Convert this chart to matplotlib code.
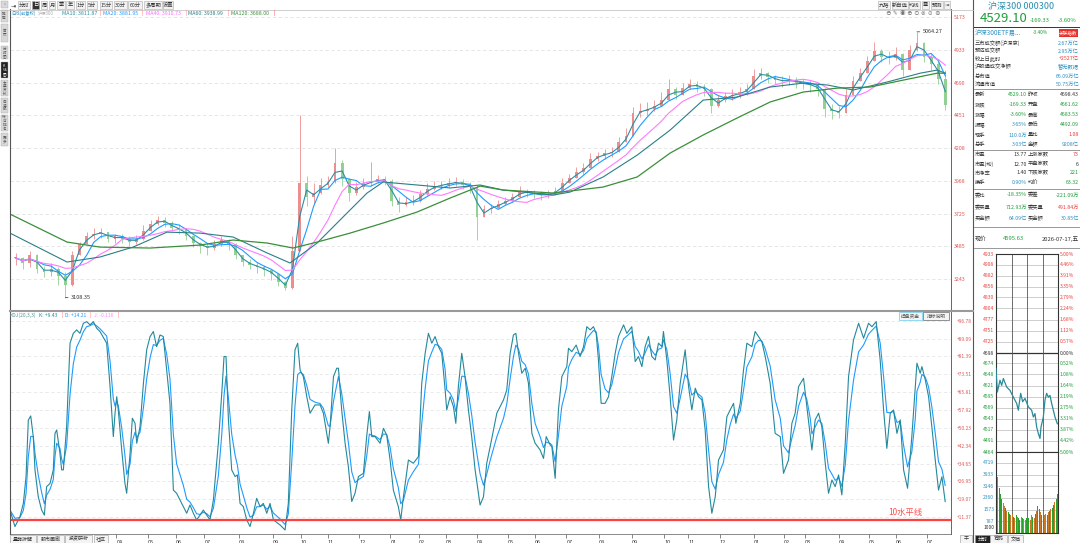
import numpy as np
import pandas as pd
import matplotlib
matplotlib.use("Agg")
import matplotlib.pyplot as plt
from matplotlib.patches import Rectangle

plt.rcParams['font.family'] = ['Noto Sans CJK SC', 'DejaVu Sans']

# ---- daily K chart, read every 5 trading days ----
closes = [3400, 3360, 3420, 3320, 3300, 3320, 3270, 3200, 3420, 3500,
          3560, 3580, 3590, 3540, 3560, 3540, 3520, 3540, 3600, 3650,
          3680, 3660, 3620, 3610, 3560, 3510, 3490, 3470, 3500, 3530,
          3500, 3420, 3370, 3350, 3330, 3310, 3280, 3220, 3180, 3450,
          3950, 3850, 3880, 3940, 3960, 4100, 3980, 3880, 3920, 3950,
          3960, 3980, 3970, 3820, 3790, 3810, 3820, 3870, 3910, 3930,
          3940, 3950, 3960, 3940, 3920, 3700, 3760, 3770, 3800, 3820,
          3850, 3890, 3880, 3870, 3860, 3870, 3890, 3950, 3990, 4030,
          4060, 4130, 4150, 4170, 4180, 4250, 4300, 4470, 4480, 4500,
          4520, 4560, 4640, 4600, 4650, 4680, 4660, 4640, 4520, 4560,
          4590, 4600, 4620, 4640, 4740, 4760, 4730, 4710, 4700, 4710,
          4690, 4680, 4670, 4640, 4500, 4480, 4470, 4600, 4700, 4760,
          4850, 4920, 4880, 4870, 4900, 4780, 4930, 4980, 4880, 4830,
          4720, 4529.10]
highs = [3440, 3410, 3450, 3430, 3340, 3360, 3330, 3300, 3450, 3520,
         3590, 3620, 3620, 3590, 3580, 3580, 3560, 3570, 3640, 3680,
         3710, 3700, 3670, 3650, 3620, 3570, 3520, 3510, 3530, 3560,
         3540, 3510, 3420, 3390, 3370, 3350, 3320, 3290, 3230, 3560,
         4452, 4000, 3950, 3990, 4000, 4209, 4120, 3990, 3960, 3990,
         4106, 4010, 4000, 3980, 3850, 3850, 3860, 3900, 3950, 3970,
         3970, 3990, 3998, 3980, 3960, 3940, 3790, 3800, 3830, 3850,
         3880, 3930, 3910, 3900, 3890, 3900, 3920, 3990, 4020, 4070,
         4100, 4170, 4180, 4200, 4220, 4290, 4360, 4510, 4540, 4550,
         4560, 4620, 4720, 4660, 4690, 4720, 4700, 4680, 4650, 4600,
         4620, 4640, 4660, 4680, 4790, 4800, 4770, 4750, 4740, 4750,
         4730, 4720, 4710, 4690, 4650, 4530, 4520, 4640, 4740, 4800,
         4890, 4990, 4940, 4920, 4950, 4910, 4970, 5064.27, 4990, 4900,
         4860, 4780]
lows = [3350, 3320, 3330, 3290, 3260, 3270, 3200, 3108.35, 3190, 3420,
        3500, 3540, 3550, 3520, 3510, 3510, 3490, 3500, 3530, 3600,
        3640, 3630, 3600, 3580, 3530, 3480, 3440, 3420, 3460, 3490,
        3460, 3390, 3340, 3320, 3290, 3270, 3240, 3190, 3164, 3170,
        3450, 3780, 3800, 3870, 3920, 3950, 3930, 3820, 3860, 3910,
        3930, 3950, 3940, 3780, 3740, 3780, 3790, 3810, 3860, 3900,
        3910, 3920, 3930, 3910, 3880, 3530, 3700, 3730, 3770, 3790,
        3810, 3850, 3850, 3840, 3830, 3840, 3860, 3890, 3950, 3990,
        4020, 4060, 4110, 4130, 4140, 4180, 4250, 4300, 4440, 4450,
        4480, 4520, 4560, 4570, 4600, 4640, 4620, 4590, 4470, 4510,
        4550, 4560, 4580, 4600, 4640, 4720, 4690, 4680, 4660, 4670,
        4650, 4640, 4620, 4590, 4440, 4420, 4430, 4470, 4600, 4700,
        4760, 4850, 4840, 4830, 4860, 4740, 4780, 4920, 4840, 4780,
        4680, 4490]

# long moving averages (trading day, value)
ma60_points = [(0, 3583), (40.2, 3370), (63.4, 3407), (86.7, 3480), (110.6, 3590),
               (133.9, 3583), (157.2, 3554), (181.1, 3437), (197.3, 3363), (216.4, 3510),
               (239.6, 3753), (251.6, 3878), (262.9, 3959), (286.8, 3937), (310.1, 3915),
               (331.2, 3937), (347.4, 3900), (382.7, 3863), (394.6, 3885), (417.9, 3996),
               (441.9, 4157), (465.1, 4341), (488.4, 4562), (512.3, 4584), (535.6, 4658),
               (558.8, 4687), (575.8, 4673), (594.1, 4636), (618.0, 4695), (641.3, 4760),
               (653.3, 4783), (658.9, 4760)]
ma120_points = [(0, 3723), (40.2, 3517), (63.4, 3480), (98.7, 3473), (133.9, 3495),
                (157.2, 3532), (181.1, 3510), (199.4, 3473), (216.4, 3517), (239.6, 3583),
                (262.9, 3657), (286.8, 3738), (310.1, 3841), (331.2, 3929), (347.4, 3900),
                (382.7, 3878), (417.9, 3922), (441.9, 3996), (465.1, 4172), (488.4, 4305),
                (512.3, 4430), (535.6, 4548), (558.8, 4621), (582.8, 4650), (606.1, 4658),
                (629.3, 4709), (653.3, 4760), (658.9, 4760)]

# KDJ K line (trading day, K)
kdj_points = [
    (0.0, 14.4), (3.5, 7.2), (7.0, 11.5), (9.4, 17.3), (11.3, 28.9), (12.9, 53.6), (14.6, 55.4),
    (16.4, 46.4), (17.6, 31.9), (19.9, 20.2), (22.3, 14.4), (24.2, 12.2), (25.8, 24.6), (28.2, 26.0),
    (30.5, 31.9), (31.7, 47.8), (32.9, 49.3), (35.2, 39.1), (36.4, 31.9), (37.6, 31.9), (39.9, 50.7),
    (42.3, 87.1), (44.6, 91.4), (47.0, 92.9), (49.3, 91.4), (51.7, 95.8), (54.0, 96.5), (56.4, 95.1),
    (58.7, 96.5), (61.1, 93.6), (63.4, 92.2), (68.1, 87.1), (70.5, 68.2), (72.8, 46.4), (74.0, 56.6),
    (75.2, 63.8), (76.3, 58.0), (78.7, 40.6), (81.0, 26.0), (82.2, 21.7), (84.6, 39.1), (86.2, 54.4),
    (88.1, 52.2), (89.3, 43.5), (91.6, 50.7), (94.0, 69.6), (96.3, 84.2), (98.7, 90.0), (101.0, 92.2),
    (103.3, 85.6), (105.7, 90.7), (108.0, 90.0), (110.4, 75.4), (112.7, 60.9), (115.1, 23.1),
    (117.4, 21.7), (122.1, 15.9), (124.5, 13.0), (126.8, 16.6), (129.2, 13.0), (131.5, 10.1),
    (133.9, 12.2), (136.2, 14.4), (138.6, 12.2), (140.9, 10.1), (143.3, 18.8), (146.8, 43.5),
    (149.2, 65.3), (150.8, 81.3), (152.2, 81.3), (153.9, 53.6), (156.2, 31.9), (158.6, 29.0),
    (160.2, 29.7), (162.1, 17.3), (164.4, 15.9), (166.8, 10.1), (169.1, 7.2), (171.5, 13.0),
    (173.8, 19.5), (176.2, 15.9), (178.5, 17.3), (180.9, 13.0), (183.2, 17.3), (185.6, 10.1),
    (190.3, 7.9), (193.8, 5.7), (196.1, 17.3), (198.5, 58.0), (200.8, 84.2), (202.7, 87.1),
    (204.4, 75.4), (206.7, 72.5), (209.1, 63.8), (211.4, 56.6), (214.9, 60.2), (218.5, 60.2),
    (220.8, 56.6), (224.3, 43.5), (225.5, 50.7), (227.9, 72.5), (230.2, 76.2), (231.4, 76.2),
    (233.7, 58.0), (236.1, 43.5), (238.4, 33.3), (240.8, 18.1), (243.1, 21.7), (245.5, 29.0),
    (249.0, 30.4), (251.3, 46.4), (253.2, 57.3), (254.9, 46.4), (257.2, 46.4), (260.7, 43.5),
    (263.1, 50.0), (265.4, 47.1), (267.8, 36.2), (270.1, 23.1), (273.6, 15.9), (275.3, 10.1),
    (277.2, 20.2), (280.7, 36.2), (284.2, 34.8), (287.8, 37.7), (290.1, 69.6), (292.5, 82.7),
    (294.8, 91.4), (297.2, 87.1), (299.5, 90.0), (301.9, 85.6), (304.2, 82.7), (306.6, 66.7),
    (307.7, 58.0), (310.1, 63.8), (312.4, 59.5), (314.1, 52.2), (315.9, 68.2), (318.3, 82.7),
    (320.6, 72.5), (323.0, 58.0), (325.3, 46.4), (327.7, 31.9), (331.2, 16.6), (333.6, 20.2),
    (335.9, 34.8), (338.3, 42.0), (343.0, 56.6), (347.7, 62.4), (350.0, 66.7), (352.4, 82.7),
    (354.7, 90.7), (356.4, 91.4), (358.3, 82.7), (360.6, 74.0), (363.0, 76.2), (365.3, 69.6),
    (367.7, 47.8), (370.0, 43.5), (373.5, 40.6), (375.9, 36.9), (377.8, 46.4), (380.6, 42.8),
    (381.8, 42.0), (384.1, 28.2), (386.4, 58.0), (388.8, 72.5), (392.3, 76.9), (393.5, 84.9),
    (395.8, 83.4), (398.9, 86.3), (401.7, 81.3), (404.1, 85.6), (406.4, 94.3), (408.8, 92.9),
    (411.1, 94.3), (413.0, 91.4), (414.6, 79.8), (416.5, 60.9), (419.3, 60.9), (421.7, 63.8),
    (424.0, 72.5), (426.4, 82.7), (428.7, 90.0), (432.3, 95.1), (434.6, 91.4), (438.1, 94.3),
    (440.5, 79.1), (442.8, 81.3), (445.2, 76.9), (447.5, 85.6), (449.9, 90.0), (452.2, 81.3),
    (454.6, 79.8), (456.9, 87.1), (459.3, 85.6), (460.4, 92.2), (462.8, 79.8), (465.1, 63.8),
    (467.5, 44.9), (469.8, 53.7), (472.2, 69.6), (475.7, 84.2), (478.1, 68.2), (480.4, 58.0),
    (482.8, 67.5), (485.1, 63.8), (487.5, 62.4), (489.8, 49.3), (492.2, 24.6), (494.5, 13.0),
    (496.9, 20.2), (499.2, 36.2), (502.7, 40.6), (505.1, 55.1), (507.4, 58.0), (509.8, 60.9),
    (511.4, 52.2), (514.5, 60.9), (516.8, 75.4), (519.2, 87.1), (522.7, 85.6), (525.0, 92.2),
    (527.4, 90.0), (529.7, 87.8), (532.1, 81.3), (535.6, 69.6), (539.1, 47.8), (542.7, 46.4),
    (545.0, 30.4), (548.5, 36.2), (550.9, 52.2), (553.2, 56.6), (555.6, 68.2), (559.1, 71.8),
    (561.4, 59.5), (563.8, 46.4), (565.0, 40.6), (567.3, 53.7), (569.7, 56.6), (572.0, 50.7),
    (574.4, 34.8), (576.7, 21.7), (579.1, 27.5), (581.4, 24.6), (583.8, 29.7), (586.1, 21.0),
    (588.5, 43.5), (590.8, 72.5), (594.3, 88.5), (597.9, 95.8), (601.4, 89.3), (604.9, 95.8),
    (607.3, 94.3), (610.3, 96.5), (613.1, 79.8), (615.5, 58.0), (617.8, 41.3), (620.2, 56.6),
    (622.5, 58.0), (624.9, 47.8), (627.2, 53.7), (629.6, 31.9), (632.4, 23.9), (635.4, 46.4),
    (637.8, 68.2), (639.0, 78.4), (641.3, 74.0), (642.5, 76.9), (644.9, 71.1), (647.2, 63.8),
    (649.5, 50.7), (651.9, 36.2), (654.2, 23.1), (656.6, 28.9), (658.9, 18.1)]

month_day = [75, 97, 117, 137, 161, 185, 205, 224, 246, 268, 288, 307, 329, 351,
             370, 392, 415, 438, 461, 478, 500, 524, 545, 560, 584, 605, 624, 646]
month_lbl = ['04', '05', '06', '07', '08', '09', '10', '11', '12', '01', '02', '03', '04', '05',
             '06', '07', '08', '09', '10', '11', '12', '01', '02', '03', '04', '05', '06', '07']

price_ticks = [5173, 4933, 4690, 4451, 4208, 3968, 3725, 3485, 3243]
kdj_ticks = [96.78, 89.09, 81.39, 73.51, 65.81, 57.92, 50.23, 42.34, 34.65, 26.95, 19.07, 11.37]

# ---- intraday panel ----
intraday_points = [(0, 4662), (5.2, 4606), (15.5, 4634), (21.9, 4622), (28.4, 4638), (41.3, 4618),
                   (54.2, 4610), (67.1, 4594), (80.0, 4579), (86.4, 4563), (95.5, 4603), (103.2, 4583),
                   (112.2, 4591), (125.1, 4571), (138.0, 4563), (144.5, 4547), (150.9, 4555),
                   (157.4, 4523), (163.8, 4508), (170.3, 4496), (174.2, 4523), (183.2, 4547),
                   (189.6, 4587), (196.1, 4603), (202.5, 4594), (209.0, 4598), (215.4, 4579),
                   (221.9, 4563), (228.3, 4547), (237.4, 4531)]
intraday_ticks = [4933, 4908, 4882, 4856, 4830, 4804, 4777, 4751, 4725, 4698,
                  4674, 4648, 4621, 4595, 4569, 4543, 4517, 4491, 4464]
intraday_pct = ['5.00%', '4.46%', '3.91%', '3.35%', '2.79%', '2.24%', '1.68%', '1.12%', '0.57%', '0.00%',
                '0.52%', '1.08%', '1.64%', '2.19%', '2.75%', '3.31%', '3.87%', '4.42%', '5.00%']
prev_close = 4698
vol = [4900, 3800, 3000, 2600, 2300, 2000, 1800, 1700, 1500, 1400, 1300, 1200, 1300, 1100, 1000, 1200,
       1100, 1000, 900, 1100, 1000, 950, 900, 1000, 1100, 1000, 900, 1200, 1100, 1000, 1300, 1500,
       1800, 1600, 1400, 1200, 1100, 1200, 1300, 1200, 1400, 1500, 1600, 1700, 1900, 2100, 2300, 2600]
vol_side = "gogggoogoggoogogoggogoogggoogogoggoggoogogoggogg"
vol_ticks = [4719, 3933, 3146, 2360, 1573, 787]

RED, GREEN, BLUE, DARK = '#e8413c', '#1f9d3a', '#2f8fc0', '#333333'

W, H = 1080, 543
fig = plt.figure(figsize=(W / 100, H / 100), dpi=100)


def rect(x0, y0, x1, y1):
    return [x0 / W, 1 - y1 / H, (x1 - x0) / W, (y1 - y0) / H]


# ---- price panel ----
ax = fig.add_axes(rect(10, 10, 951, 310))
x = 4 + 5 * np.arange(len(closes))
c = np.array(closes, float)
o = np.r_[c[0], c[:-1]]
hi = np.maximum(highs, np.maximum(o, c))
lo = np.minimum(lows, np.minimum(o, c))
cols = np.where(c >= o, '#ec8e8e', '#93d093')
ax.vlines(x, lo, hi, colors=cols, lw=0.6, zorder=2)
ax.bar(x, np.maximum(np.abs(c - o), 6), bottom=np.minimum(o, c), width=2.0, color=cols, lw=0, zorder=2)
s = pd.Series(c)
ax.plot(x, s.rolling(2, min_periods=1).mean(), color='#2b8fa3', lw=0.8, zorder=4)
ax.plot(x, s.rolling(4, min_periods=1).mean(), color='#1e9bff', lw=0.8, zorder=4)
ax.plot(x, s.rolling(8, min_periods=1).mean(), color='#ff7bff', lw=0.8, zorder=4)
ax.plot([p[0] for p in ma60_points], [p[1] for p in ma60_points], color='#2a7f86', lw=0.8, zorder=4)
ax.plot([p[0] for p in ma120_points], [p[1] for p in ma120_points], color='#3a8f3a', lw=0.9, zorder=4)
for t in price_ticks:
    ax.axhline(t, color='#e2e2e2', lw=0.6, ls=(0, (4, 3)), zorder=1)
ih, il = int(np.argmax(hi)), int(np.argmin(lo))
for i, v in [(ih, hi[ih]), (il, lo[il])]:
    ax.annotate(f"{v:.2f}", xy=(x[i], v), xytext=(4, 0), textcoords='offset points',
                fontsize=4, color=DARK, va='center',
                arrowprops=dict(arrowstyle='-', lw=0.5, color=DARK, shrinkA=0, shrinkB=0))
ax.set_xlim(0, 663)
ax.set_ylim(3017, 5225)
ax.yaxis.tick_right()
ax.set_yticks(price_ticks)
ax.set_yticklabels([str(t) for t in price_ticks], color='#e05555', fontsize=3.8)
ax.tick_params(axis='y', length=0, pad=2)
ax.set_xticks([])
for sp in ax.spines.values():
    sp.set_visible(False)

# ---- KDJ panel ----
ax2 = fig.add_axes(rect(10, 312, 951, 534))
kdj_day = [p[0] for p in kdj_points]
kk = pd.Series([p[1] for p in kdj_points])
dd = kk.ewm(alpha=0.5, adjust=False).mean()
for t in kdj_ticks:
    ax2.axhline(t, color='#e6e6e6', lw=0.6, ls=(0, (4, 3)), zorder=1)
ax2.plot(kdj_day, dd, color='#1e9bff', lw=0.8, zorder=3)
ax2.plot(kdj_day, kk, color='#23899b', lw=0.8, zorder=3)
ax2.axhline(10, color='#ff4040', lw=1.6, zorder=4)
ax2.text(619, 13.4, "10水平线", color='#ff4d4d', fontsize=6, va='center')
ax2.set_xlim(0, 663)
ax2.set_ylim(3.96, 100.7)
ax2.yaxis.tick_right()
ax2.set_yticks(kdj_ticks)
ax2.set_yticklabels([f"+{t:.2f}" for t in kdj_ticks], color='#e05555', fontsize=3.5)
ax2.tick_params(axis='y', length=0, pad=4)
ax2.set_xticks(month_day)
ax2.set_xticklabels(month_lbl, fontsize=4, color=DARK, ha='left')
ax2.tick_params(axis='x', length=3, direction='out', pad=1, color='#555', width=0.5)
for k, sp in ax2.spines.items():
    sp.set_visible(k == 'bottom')
ax2.spines['bottom'].set_color('#777')
ax2.spines['bottom'].set_linewidth(0.6)

# ---- intraday price ----
axi = fig.add_axes(rect(996, 254, 1058, 452))
for t in intraday_ticks:
    axi.axhline(t, color='#bbbbbb', lw=0.5, zorder=1)
axi.axhline(prev_close, color='#333', lw=0.9, zorder=2)
for m in (60, 120, 180):
    axi.axvline(m, color='#555', lw=0.6, zorder=2)
axi.plot([p[0] for p in intraday_points], [p[1] for p in intraday_points], color='#2a8a9a', lw=0.9, zorder=3)
axi.set_xlim(0, 240)
axi.set_ylim(4464, 4933)
axi.set_xticks([])
axi.set_yticks([])
for sp in axi.spines.values():
    sp.set_color('#333')
    sp.set_linewidth(0.8)
tr = axi.get_yaxis_transform()
for t, p in zip(intraday_ticks, intraday_pct):
    col = RED if t > prev_close else (GREEN if t < prev_close else DARK)
    axi.text(-0.03, t, str(t), transform=tr, ha='right', va='center', fontsize=3.6, color=col)
    axi.text(1.03, t, p, transform=tr, ha='left', va='center', fontsize=3.6, color=col)

# ---- intraday volume ----
axv = fig.add_axes(rect(996, 452, 1058, 533))
for t in vol_ticks:
    axv.axhline(t, color='#bbbbbb', lw=0.5, zorder=1)
for m in (60, 120, 180):
    axv.axvline(m, color='#555', lw=0.6, zorder=1)
vcols = ['#2ca02c' if ch == 'g' else '#c8782a' for ch in vol_side]
axv.bar(2.5 + 5 * np.arange(len(vol)), vol, width=4, color=vcols, lw=0, zorder=2)
axv.set_xlim(0, 240)
axv.set_ylim(0, 5460)
axv.set_xticks([])
axv.set_yticks([])
for sp in axv.spines.values():
    sp.set_color('#333')
    sp.set_linewidth(0.8)
trv = axv.get_yaxis_transform()
for t in vol_ticks:
    axv.text(-0.03, t, str(t), transform=trv, ha='right', va='center', fontsize=3.6, color=BLUE)
axv.text(-0.03, 200, "1000", transform=trv, ha='right', va='bottom', fontsize=3.6, color=DARK)

# ---- overlay: frames, toolbars, side panel text ----
ov = fig.add_axes([0, 0, 1, 1], zorder=10)
ov.set_xlim(0, W)
ov.set_ylim(H, 0)
ov.axis('off')


def txt(xp, yp, s, size=3.8, color=DARK, ha='left', **kw):
    ov.text(xp, yp, s, fontsize=size, color=color, ha=ha, va='center', **kw)


ov.plot([10, 10], [9, 534], color='#555', lw=0.8)
ov.plot([951, 951], [9, 534], color='#666', lw=0.7)
ov.plot([973, 973], [0, 543], color='#555', lw=0.8)
ov.plot([10, 973], [311, 311], color='#999', lw=1.5)
ov.plot([0, 973], [9.5, 9.5], color='#bbb', lw=0.5)

# left sidebar
side = [("»", 0.5, 8, False), ("推荐", 9.5, 22, False), ("首页", 24, 42, False), ("分时图", 46, 59, False),
        ("K线图", 62, 78, True), ("大盘资料", 80, 96, False), ("自选股", 98, 113, False),
        ("综合排名", 115, 131, False), ("更多", 133, 146, False)]
for lab, y0, y1, sel in side:
    ov.add_patch(Rectangle((0.5, y0), 7.5, y1 - y0, facecolor='#222' if sel else '#d8d8d8',
                           edgecolor='#aaa', lw=0.3))
    txt(4.2, (y0 + y1) / 2, "\n".join(lab), size=2.6, color='white' if sel else '#555',
        ha='center', linespacing=0.95)

# top toolbar
txt(13, 5, "⇥", size=4.5, color='#333', ha='center')
tools = [("分时", 18, 30), ("日", 32, 39), ("周", 41, 47), ("月", 49, 55), ("季", 57, 65), ("年", 66, 74),
         ("1分", 76, 85), ("5分", 87, 97), ("15分", 100, 112), ("30分", 114, 127), ("60分", 128, 142),
         ("多周期", 144, 162), ("设置", 163, 173)]
for lab, x0, x1 in tools:
    sel = lab == "日"
    ov.add_patch(Rectangle((x0, 1), x1 - x0, 8, facecolor='#333' if sel else '#f2f2f2',
                           edgecolor='#aaa', lw=0.4))
    txt((x0 + x1) / 2, 5, lab, size=3.8, color='white' if sel else '#333', ha='center')
tools_r = [("九格", 878, 890), ("新自选", 892, 908), ("均线", 909, 920), ("叠", 922, 929),
           ("预测", 931, 943), ("⇥", 944, 950)]
for lab, x0, x1 in tools_r:
    ov.add_patch(Rectangle((x0, 1), x1 - x0, 8, facecolor='#f2f2f2', edgecolor='#aaa', lw=0.4))
    txt((x0 + x1) / 2, 5, lab, size=3.8, color='#333', ha='center')
for i, g in enumerate("⊖✎◉⊕⊙⊚⊝⊗"):
    txt(888 + 7 * i, 13.5, g, size=4, color='#777', ha='center')

# chart headers
hdr = [("日线(前复权)", 11, BLUE, 3.1), ("沪深300", 38, '#aaaaaa', 3.1), ("MA10: 3811.87", 62, '#2b8fa3', 3.8),
       ("|", 99, '#ff6666', 3.8), ("MA20: 3881.95", 103, '#1e9bff', 3.8), ("|", 141, '#ff6666', 3.8),
       ("MA40: 3910.73", 146, '#ff66ff', 3.8), ("|", 185, '#ff6666', 3.8),
       ("MA60: 3938.99", 188, '#2a7f86', 3.8), ("|", 228, '#ff6666', 3.8),
       ("MA120: 3688.00", 231, '#3a8f3a', 3.8), ("|", 273, '#ff3333', 3.8)]
for s_, xp, col, fs in hdr:
    txt(xp, 13.5, s_, size=fs, color=col)
kh = [("KDJ(20,3,3)", 10, '#5a8f9a'), ("K: +9.43", 39, '#23899b'), ("|", 61, '#ff6666'),
      ("D: +14.21", 65, '#1e9bff'), ("|", 89, '#ff6666'), ("J: -0.116", 94, '#ff88ff'),
      ("|", 117, '#ff6666')]
for s_, xp, col in kh:
    txt(xp, 315.5, s_, size=3.6, color=col)
for lab, x0, x1, ec in [("操盘资金", 899, 922, '#66ccee'), ("指标说明", 923, 949, '#666')]:
    ov.add_patch(Rectangle((x0, 312), x1 - x0, 8, facecolor='#f4f4f4', edgecolor=ec, lw=0.5))
    txt((x0 + x1) / 2, 316, lab, size=3.4, color='#555', ha='center')

# bottom tabs
for lab, x0, x1 in [("量能拆解", 10, 36), ("股市画廊", 37, 64), ("投资研析", 65, 92), ("社区", 94, 108)]:
    ov.add_patch(Rectangle((x0, 535), x1 - x0, 8, facecolor='#f4f4f4', edgecolor='#999', lw=0.4))
    txt((x0 + x1) / 2, 539, lab, size=3.6, color='#333', ha='center')

# right quote panel
txt(1021, 7, "沪深300 000300", size=6.5, color='#2a8fb0', ha='center')
txt(980, 19, "4529.10", size=9.5, color=GREEN)
txt(1030, 21, "-169.33", size=4.2, color=GREEN)
txt(1058, 21, "-3.60%", size=4.2, color=GREEN)
ov.plot([974, 1080], [27, 27], color='#333', lw=0.7)
txt(975, 33, "沪深300ETF易...", size=4.6, color=BLUE)
txt(1033, 33, "-3.40%", size=3.4, color=GREEN)
ov.add_patch(Rectangle((1059, 29), 19, 8, facecolor='#e8302a', edgecolor='none'))
txt(1068.5, 33, "关联指数", size=3.3, color='white', ha='center')

rows_single = [("三市成交额(沪深京)", "2.67万亿", BLUE, 43), ("预估成交额", "2.95万亿", BLUE, 51),
               ("较上日此时", "+2527亿", RED, 59), ("沪股通成交净额", "暂无数据", BLUE, 67),
               ("总市值", "66.09万亿", BLUE, 76), ("流通市值", "50.75万亿", BLUE, 84)]
for lab, val, col, yp in rows_single:
    txt(975, yp, lab)
    txt(1079, yp, val, color=col, ha='right')

rows_double = [("最新", "4529.10", GREEN, "昨收", "4698.43", DARK, 94),
               ("涨跌", "-169.33", GREEN, "开盘", "4661.62", GREEN, 104.5),
               ("涨幅", "-3.60%", GREEN, "最高", "4683.53", GREEN, 115),
               ("振幅", "3.65%", BLUE, "最低", "4492.09", GREEN, 125),
               ("现手", "110.0万", BLUE, "量比", "1.08", RED, 135),
               ("总手", "3.03亿", BLUE, "金额", "9208亿", BLUE, 145),
               ("市盈", "13.77", DARK, "上涨家数", "73", RED, 155),
               ("市盈(动)", "12.70", DARK, "平盘家数", "6", DARK, 164),
               ("市净率", "1.40", DARK, "下跌家数", "221", GREEN, 173),
               ("换手", "0.90%", BLUE, "均价", "63.32", GREEN, 182),
               ("委比", "-18.35%", GREEN, "委差", "-221.09万", GREEN, 195),
               ("委卖量", "712.93万", GREEN, "委买量", "491.84万", RED, 207),
               ("卖金额", "64.09亿", BLUE, "买金额", "30.85亿", BLUE, 219)]
for l1, v1, c1, l2, v2, c2, yp in rows_double:
    txt(975, yp, l1)
    txt(1027, yp, v1, color=c1, ha='right')
    txt(1028, yp, l2)
    txt(1079, yp, v2, color=c2, ha='right')
for yp in (88.5, 150, 188.5, 226.5, 248):
    ov.plot([974, 1080], [yp, yp], color='#888', lw=0.6)

txt(975, 239, "现价", size=4.2)
txt(1003, 239, "4595.63", size=4.2, color=GREEN)
txt(1079, 239, "2026-07-17,五", size=4.2, color=DARK, ha='right')

for lab, x0, x1, sel in [("干", 960, 972, False), ("分时", 975, 990, True), ("筹码", 990, 1007, False),
                         ("文档", 1008, 1023, False)]:
    ov.add_patch(Rectangle((x0, 535), x1 - x0, 8, facecolor='#222' if sel else '#f4f4f4',
                           edgecolor='#999', lw=0.4))
    txt((x0 + x1) / 2, 539, lab, size=3.6, color='white' if sel else '#333', ha='center')

fig.savefig("out.png", dpi=100)
